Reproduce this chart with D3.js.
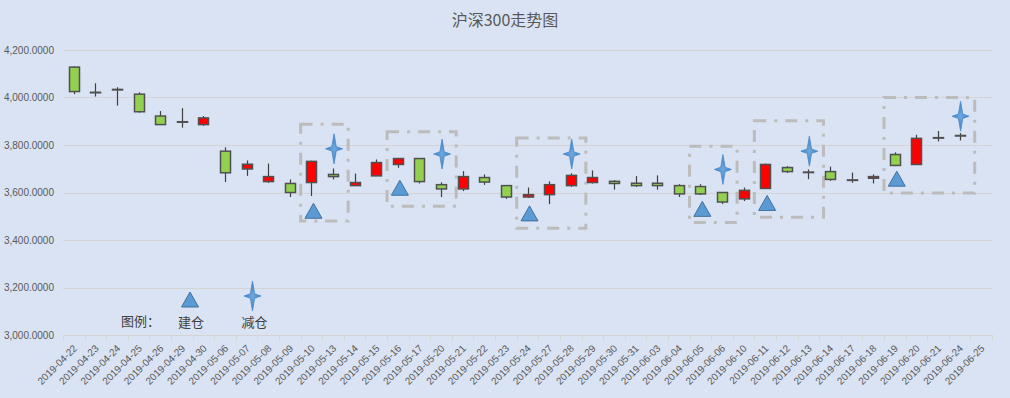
<!DOCTYPE html>
<html>
<head>
<meta charset="utf-8">
<script src="https://cdn.jsdelivr.net/npm/d3@7"></script>
<style>
  html, body { margin: 0; padding: 0; background: #dae3f3; }
  svg { display: block; font-family: "Liberation Sans", Arial, sans-serif; }
</style>
</head>
<body>
<svg id="chart"></svg>
<script>
// categories (trading days)
const dates = [
  "2019-04-22", "2019-04-23", "2019-04-24", "2019-04-25", "2019-04-26", "2019-04-29", "2019-04-30",
  "2019-05-06", "2019-05-07", "2019-05-08", "2019-05-09", "2019-05-10", "2019-05-13", "2019-05-14",
  "2019-05-15", "2019-05-16", "2019-05-17", "2019-05-20", "2019-05-21", "2019-05-22", "2019-05-23",
  "2019-05-24", "2019-05-27", "2019-05-28", "2019-05-29", "2019-05-30", "2019-05-31", "2019-06-03",
  "2019-06-04", "2019-06-05", "2019-06-06", "2019-06-10", "2019-06-11", "2019-06-12", "2019-06-13",
  "2019-06-14", "2019-06-17", "2019-06-18", "2019-06-19", "2019-06-20", "2019-06-21", "2019-06-24",
  "2019-06-25"
];

// OHLC series (last day has no data)
const openValues = [4128, 4020, 4033, 4014, 3922, 3896, 3886, 3774, 3699, 3646, 3638, 3642, 3676, 3629,
  3670, 3718, 3743, 3633, 3615, 3663, 3629, 3581, 3591, 3629, 3642, 3647, 3639, 3639, 3629, 3625, 3600,
  3573, 3617, 3705, 3686, 3688, 3653, 3660, 3760, 3718, 3831, 3840, null];
const highValues = [4130, 4060, 4043, 4022, 3943, 3955, 3922, 3790, 3735, 3722, 3655, 3734, 3701, 3680,
  3739, 3743, 3745, 3643, 3690, 3676, 3629, 3621, 3647, 3681, 3693, 3652, 3669, 3672, 3635, 3635, 3602,
  3621, 3722, 3711, 3697, 3709, 3684, 3676, 3769, 3843, 3859, 3850, null];
const lowValues = [4014, 4004, 3966, 3936, 3886, 3873, 3881, 3644, 3670, 3640, 3581, 3585, 3655, 3629,
  3670, 3704, 3638, 3581, 3606, 3632, 3573, 3577, 3551, 3623, 3638, 3612, 3623, 3612, 3581, 3589, 3551,
  3564, 3617, 3682, 3656, 3649, 3641, 3638, 3711, 3718, 3815, 3819, null];
const closeValues = [4025, 4022, 4034, 3940, 3886, 3898, 3914, 3683, 3719, 3667, 3600, 3731, 3667, 3642,
  3726, 3743, 3646, 3615, 3667, 3644, 3581, 3591, 3633, 3672, 3663, 3638, 3629, 3629, 3594, 3594, 3560,
  3609, 3718, 3688, 3684, 3655, 3651, 3667, 3714, 3828, 3829, 3838, null];

// 建仓 / 减仓 markers
const buyDates = ["2019-05-10", "2019-05-16", "2019-05-24", "2019-06-05", "2019-06-11", "2019-06-19"];
const buyValues = [3521, 3618, 3510, 3529, 3554, 3656];
const sellDates = ["2019-05-13", "2019-05-20", "2019-05-28", "2019-06-06", "2019-06-13", "2019-06-24"];
const sellValues = [3784, 3762, 3762, 3697, 3774, 3921];

// highlighted periods
const boxStart = ["2019-05-10", "2019-05-16", "2019-05-24", "2019-06-05", "2019-06-11", "2019-06-19"];
const boxEnd = ["2019-05-13", "2019-05-20", "2019-05-28", "2019-06-06", "2019-06-13", "2019-06-24"];
const boxTop = [3887, 3856, 3830, 3795, 3902, 4000];
const boxBottom = [3480, 3542, 3450, 3474, 3496, 3598];

const yTicks = [3000, 3200, 3400, 3600, 3800, 4000, 4200];

const title = "沪深300走势图";
const legendTitle = "图例：";
const buyLabel = "建仓";
const sellLabel = "减仓";

let dimensions = {
  width: 1010,
  height: 398,
  margin: { top: 50, right: 18, bottom: 63, left: 63 }
};
dimensions.boundedWidth = dimensions.width - dimensions.margin.left - dimensions.margin.right;
dimensions.boundedHeight = dimensions.height - dimensions.margin.top - dimensions.margin.bottom;

const candles = dates.map((d, i) => ({
  date: d, open: openValues[i], high: highValues[i], low: lowValues[i], close: closeValues[i]
})).filter(d => d.open != null);

const wrapper = d3.select("#chart")
  .attr("width", dimensions.width)
  .attr("height", dimensions.height);

wrapper.append("rect")
  .attr("width", dimensions.width)
  .attr("height", dimensions.height)
  .attr("fill", "#dae3f3");

wrapper.append("text")
  .attr("x", dimensions.width / 2)
  .attr("y", 26)
  .attr("text-anchor", "middle")
  .style("font-family", "'Noto Sans CJK SC', sans-serif")
  .style("font-size", "16px")
  .attr("fill", "#595959")
  .text(title);

const bounds = wrapper.append("g")
  .attr("transform", `translate(${dimensions.margin.left},${dimensions.margin.top})`);

// scales
const xScale = d3.scaleBand()
  .domain(dates)
  .range([0, dimensions.boundedWidth]);

const yScale = d3.scaleLinear()
  .domain([3000, 4200])
  .range([dimensions.boundedHeight, 0]);

// gridlines
bounds.append("g")
  .selectAll("line")
  .data(yTicks)
  .join("line")
  .attr("x1", 0)
  .attr("x2", dimensions.boundedWidth)
  .attr("y1", d => Math.round(yScale(d)) + 0.5)
  .attr("y2", d => Math.round(yScale(d)) + 0.5)
  .attr("stroke", "#d4d4d4")
  .attr("stroke-width", 1);

// y axis
const yAxis = bounds.append("g")
  .call(d3.axisLeft(yScale).tickValues(yTicks).tickFormat(d3.format(",.4f")).tickSize(0).tickPadding(9));
yAxis.select(".domain").remove();
yAxis.selectAll("text")
  .attr("fill", "#595959")
  .style("font-size", "10px")
  .style("font-family", "'Liberation Sans', Arial, sans-serif");

// x axis
const xAxis = bounds.append("g")
  .attr("transform", `translate(0,${dimensions.boundedHeight})`)
  .call(d3.axisBottom(xScale).tickSize(0));
xAxis.select(".domain").remove();
xAxis.selectAll("text")
  .attr("y", 0)
  .attr("dy", 0)
  .attr("transform", "translate(4,14) rotate(-45)")
  .attr("text-anchor", "end")
  .attr("fill", "#595959")
  .style("font-size", "10px")
  .style("font-family", "'Liberation Sans', Arial, sans-serif");

// category tick marks at band edges
bounds.append("g")
  .selectAll("line")
  .data(dates.concat([null]))
  .join("line")
  .attr("x1", (d, i) => Math.round(i * xScale.step()) + 0.5)
  .attr("x2", (d, i) => Math.round(i * xScale.step()) + 0.5)
  .attr("y1", dimensions.boundedHeight)
  .attr("y2", dimensions.boundedHeight + 5)
  .attr("stroke", "#d4d4d4");

// highlighted period boxes
bounds.append("g")
  .selectAll("rect")
  .data(boxStart.map((d, i) => ({ start: d, end: boxEnd[i], top: boxTop[i], bottom: boxBottom[i] })))
  .join("rect")
  .attr("x", d => xScale(d.start))
  .attr("y", d => yScale(d.top))
  .attr("width", d => xScale(d.end) + xScale.step() * 1.2 - xScale(d.start))
  .attr("height", d => yScale(d.bottom) - yScale(d.top))
  .attr("fill", "none")
  .attr("stroke", "#bcbcbc")
  .attr("stroke-width", 3)
  .attr("stroke-dasharray", "12,8,3,8");

// candles
const candleWidth = 10;
const candleGroups = bounds.append("g")
  .selectAll("g")
  .data(candles)
  .join("g")
  .attr("transform", d => `translate(${Math.round(xScale(d.date) + xScale.bandwidth() / 2)},0)`);

candleGroups.append("line")
  .attr("x1", 0.5)
  .attr("x2", 0.5)
  .attr("y1", d => yScale(d.high))
  .attr("y2", d => yScale(d.low))
  .attr("stroke", "#404040")
  .attr("stroke-width", 1.2);

candleGroups.append("rect")
  .attr("x", -candleWidth / 2 + 0.5)
  .attr("y", d => yScale(Math.max(d.open, d.close)))
  .attr("width", candleWidth)
  .attr("height", d => Math.max(0.5, Math.abs(yScale(d.open) - yScale(d.close))))
  .attr("fill", d => d.close > d.open ? "#ff0000" : "#92d050")
  .attr("stroke", "#505050")
  .attr("stroke-width", 1.5);

// markers
const trianglePath = "M0,-8 L8.5,7 L-8.5,7 Z";
const starPath = "M0,-15 L2.2,-2.2 L8.5,0 L2.2,2.2 L0,15 L-2.2,2.2 L-8.5,0 L-2.2,-2.2 Z";

const defs = wrapper.append("defs");
const grad = defs.append("radialGradient").attr("id", "starFill");
grad.append("stop").attr("offset", "0%").attr("stop-color", "#6fa8de");
grad.append("stop").attr("offset", "100%").attr("stop-color", "#3f7fc2");

bounds.append("g")
  .selectAll("path")
  .data(buyDates.map((d, i) => ({ date: d, value: buyValues[i] })))
  .join("path")
  .attr("d", trianglePath)
  .attr("transform", d => `translate(${xScale(d.date) + xScale.bandwidth() / 2 + 2},${yScale(d.value)})`)
  .attr("fill", "#5b9bd5")
  .attr("stroke", "#41719c")
  .attr("stroke-width", 1);

bounds.append("g")
  .selectAll("path")
  .data(sellDates.map((d, i) => ({ date: d, value: sellValues[i] })))
  .join("path")
  .attr("d", starPath)
  .attr("transform", d => `translate(${xScale(d.date) + xScale.bandwidth() / 2 + 1},${yScale(d.value)})`)
  .attr("fill", "url(#starFill)")
  .attr("stroke", "#4a89cc")
  .attr("stroke-width", 0.8);

// legend
const legend = wrapper.append("g")
  .style("font-family", "'Noto Sans CJK SC', sans-serif")
  .style("font-size", "13px")
  .attr("fill", "#404040");

legend.append("text").attr("x", 121).attr("y", 326).text(legendTitle);
legend.append("path")
  .attr("d", trianglePath)
  .attr("transform", "translate(190,300)")
  .attr("fill", "#5b9bd5")
  .attr("stroke", "#41719c");
legend.append("text").attr("x", 191).attr("y", 327).attr("text-anchor", "middle").text(buyLabel);
legend.append("path")
  .attr("d", starPath)
  .attr("transform", "translate(252.5,296)")
  .attr("fill", "url(#starFill)")
  .attr("stroke", "#4a89cc")
  .attr("stroke-width", 0.8);
legend.append("text").attr("x", 254.5).attr("y", 327).attr("text-anchor", "middle").text(sellLabel);
</script>
</body>
</html>
